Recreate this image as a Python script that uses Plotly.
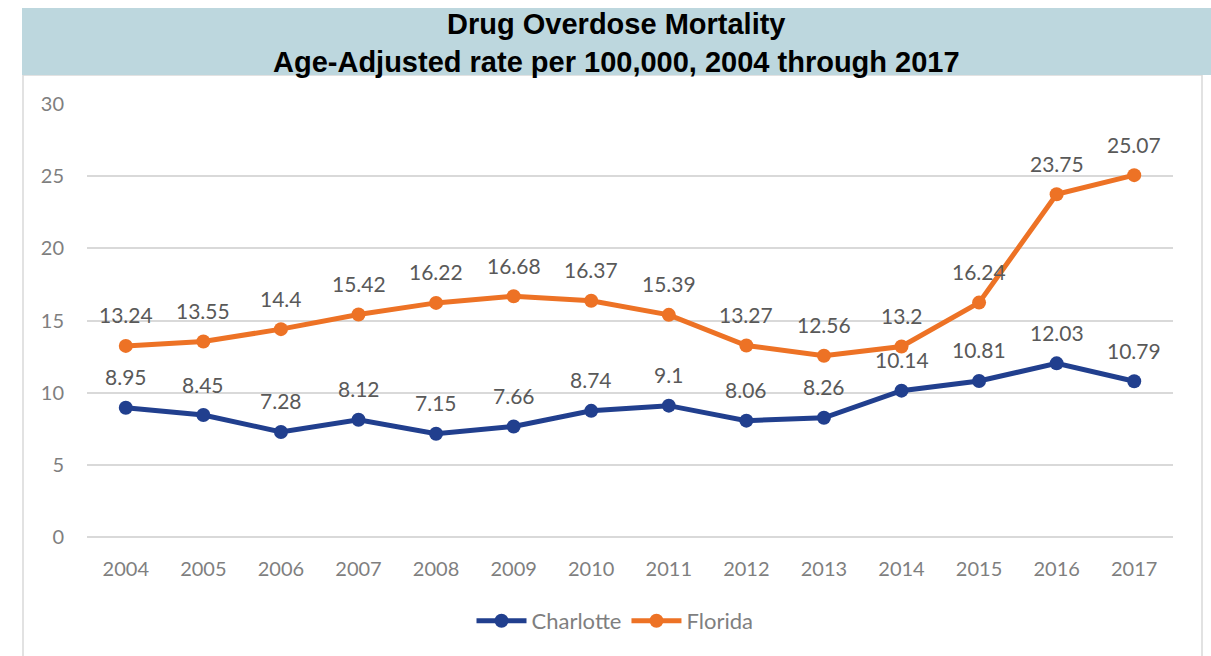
import plotly.graph_objects as go

years = ["2004", "2005", "2006", "2007", "2008", "2009", "2010",
         "2011", "2012", "2013", "2014", "2015", "2016", "2017"]
charlotte = [8.95, 8.45, 7.28, 8.12, 7.15, 7.66, 8.74, 9.1, 8.06, 8.26, 10.14, 10.81, 12.03, 10.79]
florida = [13.24, 13.55, 14.4, 15.42, 16.22, 16.68, 16.37, 15.39, 13.27, 12.56, 13.2, 16.24, 23.75, 25.07]
y_ticks = [0, 5, 10, 15, 20, 25, 30]
title_lines = ["Drug Overdose Mortality", "Age-Adjusted rate per 100,000, 2004 through 2017"]

BLUE = "#213F8E"
ORANGE = "#ED7225"
LABEL = "#595959"
TICK = "#7F7F7F"
GRID = "#D9D9D9"
FONT = "Lato, 'Open Sans', sans-serif"

W, H = 1211, 656
L, R, T, B = 87, 1173, 104, 537  # plot area in pixels


def px_x(p):
    return (p - L) / (R - L)


def px_y(p):
    return (B - p) / (B - T)


fig = go.Figure()
for name, vals, col in [("Charlotte", charlotte, BLUE), ("Florida", florida, ORANGE)]:
    fig.add_trace(go.Scatter(
        x=years, y=vals, name=name, mode="lines+markers",
        line=dict(color=col, width=5),
        marker=dict(color=col, size=14),
    ))

annotations = []
for vals in (charlotte, florida):
    for i, v in enumerate(vals):
        annotations.append(dict(
            x=i, y=v, xref="x", yref="y", text=f"{v:g}", showarrow=False, yshift=31,
            font=dict(family=FONT, size=21, color=LABEL),
        ))

annotations.append(dict(
    xref="paper", yref="paper", x=px_x(616), y=px_y(43),
    text="<b>" + title_lines[0] + "</b><br><b>" + title_lines[1] + "</b>",
    showarrow=False, xanchor="center", yanchor="middle",
    font=dict(family="Arial, 'Liberation Sans', sans-serif", size=29, color="#000000"),
))

shapes = [
    dict(type="rect", xref="paper", yref="paper",
         x0=px_x(23), x1=px_x(1202), y0=px_y(700), y1=px_y(75),
         line=dict(color=GRID, width=1.5), fillcolor="rgba(0,0,0,0)", layer="below"),
    dict(type="rect", xref="paper", yref="paper",
         x0=px_x(22), x1=px_x(1215), y0=px_y(75), y1=px_y(8),
         line=dict(width=0), fillcolor="#BDD7DE", layer="below"),
]

fig.update_layout(
    width=W, height=H,
    margin=dict(l=L, r=W - R, t=T, b=H - B),
    paper_bgcolor="white", plot_bgcolor="white",
    showlegend=True,
    legend=dict(orientation="h", x=px_x(615), xanchor="center", y=px_y(621), yanchor="middle",
                font=dict(family=FONT, size=22, color=TICK), itemwidth=50,
                bgcolor="rgba(0,0,0,0)"),
    annotations=annotations,
    shapes=shapes,
    xaxis=dict(type="category", range=[-0.5, 13.5], showgrid=False, showline=False,
               zeroline=False, ticks="", tickfont=dict(family=FONT, size=20, color=TICK),
               ticklabelstandoff=18, fixedrange=True),
    yaxis=dict(range=[0, 30], tickvals=y_ticks, showgrid=True, gridcolor=GRID,
               gridwidth=1.5, zeroline=True, zerolinecolor=GRID, zerolinewidth=1.5,
               showline=False, ticks="",
               tickfont=dict(family=FONT, size=20, color=TICK), ticklabelstandoff=22,
               fixedrange=True),
)

fig.write_html("out.html", config={"displayModeBar": False},
               post_script="document.body.style.margin='0';")
